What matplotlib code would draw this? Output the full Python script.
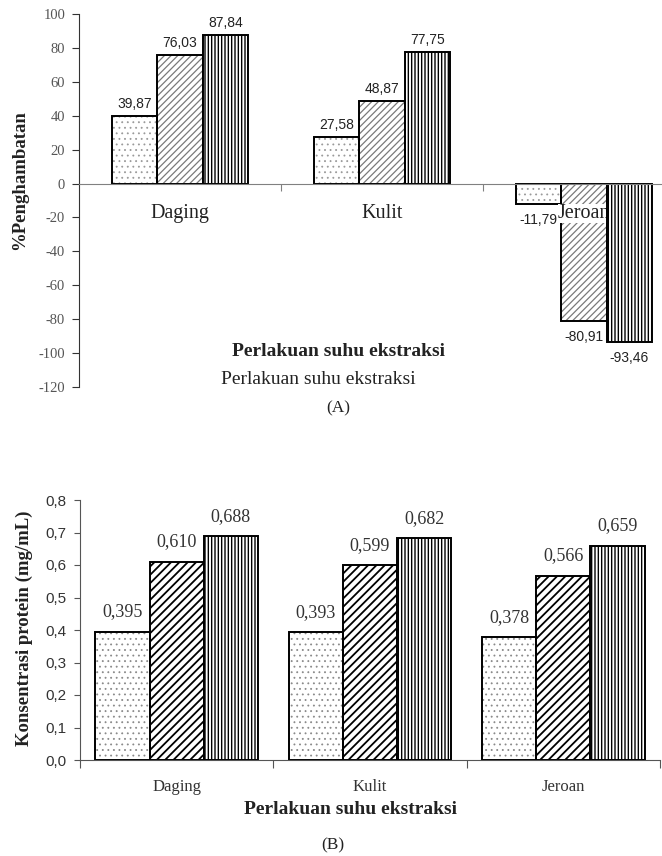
import matplotlib
matplotlib.use("Agg")
import matplotlib.pyplot as plt
import numpy as np

# ---------------- data ----------------
categories = ["Daging", "Kulit", "Jeroan"]
inhib_s1 = [39.87, 27.58, -11.79]
inhib_s2 = [76.03, 48.87, -80.91]
inhib_s3 = [87.84, 77.75, -93.46]
inhib_labels = [["39,87", "27,58", "-11,79"],
                ["76,03", "48,87", "-80,91"],
                ["87,84", "77,75", "-93,46"]]
a_yticks = [100, 80, 60, 40, 20, 0, -20, -40, -60, -80, -100, -120]

prot_s1 = [0.395, 0.393, 0.378]
prot_s2 = [0.610, 0.599, 0.566]
prot_s3 = [0.688, 0.682, 0.659]
prot_labels = [["0,395", "0,393", "0,378"],
               ["0,610", "0,599", "0,566"],
               ["0,688", "0,682", "0,659"]]
b_yticks = [0.0, 0.1, 0.2, 0.3, 0.4, 0.5, 0.6, 0.7, 0.8]
b_yticklabels = ["0,0", "0,1", "0,2", "0,3", "0,4", "0,5", "0,6", "0,7", "0,8"]

SERIF = ["Liberation Serif", "DejaVu Serif"]
SANS = ["Liberation Sans", "DejaVu Sans"]

W, H = 662, 856
fig = plt.figure(figsize=(W / 100, H / 100), dpi=100)


def px(x, y):
    return x / W, 1 - y / H


def hatched_bar(ax, x, vals, width, hatch, hcolor, hlw, face, z):
    with plt.rc_context({"hatch.linewidth": hlw, "hatch.color": hcolor}):
        bars = ax.bar(x, vals, width, color=face, edgecolor=hcolor, hatch=hatch,
                      linewidth=0, zorder=z)
        for b in bars:
            if hasattr(b, "set_hatch_linewidth"):
                b.set_hatch_linewidth(hlw)
    ax.bar(x, vals, width, fill=False, edgecolor="black", linewidth=1.4, zorder=z + 0.1)
    return bars


# ================= Chart A =================
axA = fig.add_axes([79 / W, 1 - 387 / H, 606 / W, 373 / H])
x = np.arange(len(categories))
wA = 0.225
seriesA = [inhib_s1, inhib_s2, inhib_s3]
stylesA = [("...", "#9a9a9a", 0.6, "white", 2.0),
           ("/////", "#7a7a7a", 0.9, "white", 2.0),
           ("|||||", "black", 1.0, "white", 3.0)]
for i, (vals, st) in enumerate(zip(seriesA, stylesA)):
    xs = x + (i - 1) * wA
    hatched_bar(axA, xs, vals, wA, st[0], st[1], st[2], st[3], st[4])
    for xi, v, lab in zip(xs, vals, inhib_labels[i]):
        off = 12 if v >= 0 else -16
        axA.annotate(lab, (xi, v), xytext=(0, off), textcoords="offset pixels",
                     ha="center", va="center", fontsize=10, family=SANS,
                     color="#222222", zorder=5)

axA.set_xlim(-0.5, 2.5)
axA.set_ylim(-120, 100)
axA.spines["top"].set_visible(False)
axA.spines["right"].set_visible(False)
axA.spines["bottom"].set_position(("data", 0))
axA.spines["bottom"].set_color("#808080")
axA.spines["bottom"].set_zorder(4)
axA.spines["left"].set_color("#333333")
axA.set_xticks([0.5, 1.5, 2.5])
axA.set_xticklabels([])
axA.tick_params(axis="x", direction="out", length=5, color="#808080")
axA.set_yticks(a_yticks)
axA.set_yticklabels([str(t) for t in a_yticks], family=SERIF, fontsize=10.5, color="#555555")
axA.tick_params(axis="y", direction="out", length=5, pad=5, color="#333333")

for xi, name in zip(x, categories):
    axA.annotate(name, (xi, 0), xytext=(0, -30), textcoords="offset pixels",
                 ha="center", va="center", fontsize=14.5, family=SERIF,
                 color="#222222", zorder=2.5,
                 bbox=dict(facecolor="white", edgecolor="none", pad=0))

fig.text(*px(20, 180), "%Penghambatan", rotation=90, ha="center", va="center",
         fontsize=13.5, fontweight="bold", family=SERIF, color="#222222")
fig.text(*px(338, 351), "Perlakuan suhu ekstraksi", ha="center", va="center",
         fontsize=14, fontweight="bold", family=SERIF, color="#222222")
fig.text(*px(318, 379), "Perlakuan suhu ekstraksi", ha="center", va="center",
         fontsize=14, family=SERIF, color="#222222")
fig.text(*px(338, 408), "(A)", ha="center", va="center",
         fontsize=12.5, family=SERIF, color="#222222")

# ================= Chart B =================
axB = fig.add_axes([80 / W, 1 - 760 / H, 580 / W, 260 / H])
wB = 0.28
seriesB = [prot_s1, prot_s2, prot_s3]
stylesB = [("...", "#8a8a8a", 0.6, "white", 2.0),
           ("////", "black", 1.3, "white", 2.0),
           ("|||||", "black", 1.0, "white", 3.0)]
for i, (vals, st) in enumerate(zip(seriesB, stylesB)):
    xs = x + (i - 1) * wB
    hatched_bar(axB, xs, vals, wB, st[0], st[1], st[2], st[3], st[4])
    for xi, v, lab in zip(xs, vals, prot_labels[i]):
        axB.annotate(lab, (xi, v), xytext=(0, 20), textcoords="offset pixels",
                     ha="center", va="center", fontsize=13, family=SERIF,
                     color="#333333", zorder=5)

axB.set_xlim(-0.5, 2.5)
axB.set_ylim(0, 0.8)
axB.spines["top"].set_visible(False)
axB.spines["right"].set_visible(False)
axB.spines["bottom"].set_color("#555555")
axB.spines["left"].set_color("#555555")
axB.set_xticks([-0.5, 0.5, 1.5, 2.5])
axB.set_xticklabels([])
axB.tick_params(axis="x", which="major", direction="out", length=6, color="#555555")
axB.set_xticks(x, minor=True)
axB.set_xticklabels(categories, minor=True, family=SERIF, fontsize=12, color="#333333")
axB.tick_params(axis="x", which="minor", length=0, pad=14)
axB.set_yticks(b_yticks)
axB.set_yticklabels(b_yticklabels, family=SANS, fontsize=11, color="#333333")
axB.tick_params(axis="y", direction="out", length=4, pad=6, color="#555555")

fig.text(*px(24, 628), "Konsentrasi protein (mg/mL)", rotation=90, ha="center", va="center",
         fontsize=13.5, fontweight="bold", family=SERIF, color="#222222")
fig.text(*px(350, 810), "Perlakuan suhu ekstraksi", ha="center", va="center",
         fontsize=14, fontweight="bold", family=SERIF, color="#222222")
fig.text(*px(333, 845), "(B)", ha="center", va="center",
         fontsize=12.5, family=SERIF, color="#222222")

fig.savefig("out.png", dpi=100)
